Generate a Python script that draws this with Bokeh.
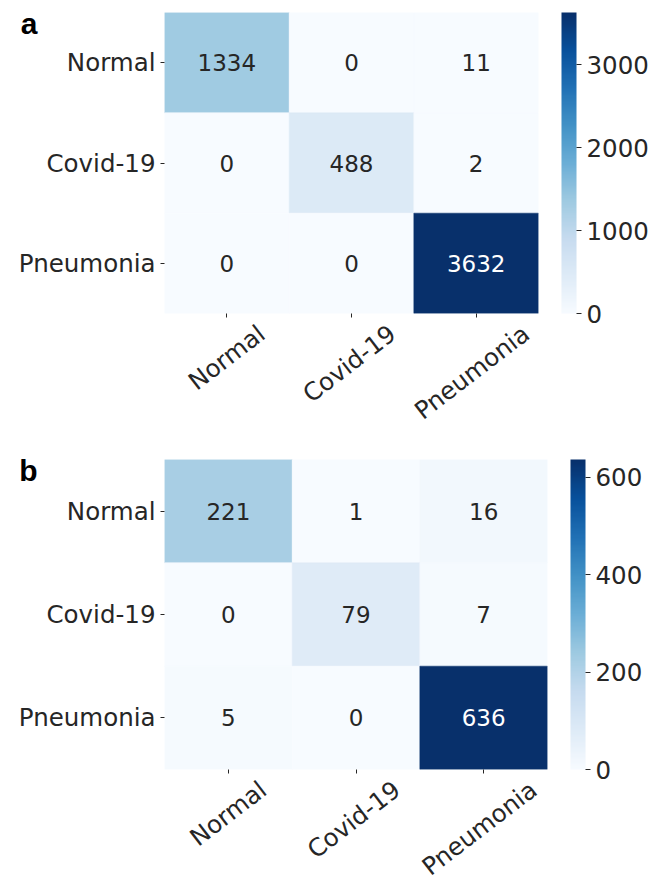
import math
from bokeh.plotting import figure
from bokeh.models import (ColumnDataSource, LinearColorMapper, ColorBar, FixedTicker,
                          Range1d, LinearAxis)
from bokeh.layouts import column
from bokeh.palettes import Blues256
from bokeh.core.properties import value
from bokeh.embed import file_html
from bokeh.resources import INLINE

# ---------------- data ----------------
classes = ["Normal", "Covid-19", "Pneumonia"]
cm_a = [[1334, 0, 11],
        [0, 488, 2],
        [0, 0, 3632]]
cm_b = [[221, 1, 16],
        [0, 79, 7],
        [5, 0, 636]]
cbar_ticks_a = [0, 1000, 2000, 3000]
cbar_ticks_b = [0, 200, 400, 600]
letter_a = "a"
letter_b = "b"

# ---------------- style ----------------
palette = list(reversed(Blues256))
FONT = "DejaVu Sans"
TXT = "#262626"
LAB_SIZE = "24.5px"
XLAB_ANGLE = math.radians(37.5)
XLAB_SHIFT_PX = [35, 41, 50]   # shift of right-anchored rotated labels so they look centred
XLAB_STANDOFF = 13
LETTER_DROP_PX = 11            # letter centre below frame top
LETTER_STANDOFF = -22


def make_panel(cm, cticks, letter, fw, fh, bl, bt, bb):
    n = len(classes)
    vmax = max(max(r) for r in cm)
    xs, ys, vals, txt, tcol = [], [], [], [], []
    for i, row in enumerate(cm):
        for j, v in enumerate(row):
            xs.append(j + 0.5)
            ys.append(i + 0.5)
            vals.append(v)
            txt.append(str(v))
            tcol.append("white" if v > 0.6 * vmax else TXT)
    src = ColumnDataSource(dict(x=xs, y=ys, v=vals, t=txt, c=tcol))
    mapper = LinearColorMapper(palette=palette, low=0, high=vmax)

    p = figure(frame_width=fw, frame_height=fh,
               x_range=Range1d(0, n), y_range=Range1d(n, 0),
               output_backend="svg", toolbar_location=None,
               min_border_left=bl, min_border_top=bt, min_border_bottom=bb,
               min_border_right=125)
    p.grid.visible = False
    p.outline_line_color = None
    p.background_fill_color = "white"

    p.rect(x="x", y="y", width=1, height=1, source=src,
           fill_color={"field": "v", "transform": mapper},
           line_color={"field": "v", "transform": mapper}, line_width=0.5)
    p.text(x="x", y="y", text="t", source=src, text_color="c",
           text_align="center", text_baseline="middle",
           text_font=value(FONT), text_font_size="23px")

    centers = [k + 0.5 for k in range(n)]
    ux = fw / n
    uy = fh / n

    # y axis: class names
    p.yaxis.ticker = FixedTicker(ticks=centers)
    p.yaxis.major_label_overrides = {c: lab for c, lab in zip(centers, classes)}
    p.yaxis.axis_line_color = None
    p.yaxis.major_tick_in = 0
    p.yaxis.major_tick_out = 4
    p.yaxis.major_tick_line_color = TXT
    p.yaxis.minor_tick_line_color = None
    p.yaxis.major_label_standoff = 5
    p.yaxis.major_label_text_font = FONT
    p.yaxis.major_label_text_font_size = LAB_SIZE
    p.yaxis.major_label_text_color = TXT

    # x axis: tick marks at cell centres (minor ticks), rotated labels
    shifted = [c + s / ux for c, s in zip(centers, XLAB_SHIFT_PX)]
    p.xaxis.ticker = FixedTicker(ticks=shifted, minor_ticks=centers)
    p.xaxis.major_label_overrides = {s: lab for s, lab in zip(shifted, classes)}
    p.xaxis.axis_line_color = None
    p.xaxis.major_tick_line_color = None
    p.xaxis.major_tick_in = 0
    p.xaxis.major_tick_out = 0
    p.xaxis.minor_tick_in = 0
    p.xaxis.minor_tick_out = 4
    p.xaxis.minor_tick_line_color = TXT
    p.xaxis.major_label_orientation = XLAB_ANGLE
    p.xaxis.major_label_standoff = XLAB_STANDOFF
    p.xaxis.major_label_text_font = FONT
    p.xaxis.major_label_text_font_size = LAB_SIZE
    p.xaxis.major_label_text_color = TXT

    # panel letter as an outer left axis label
    ly = LETTER_DROP_PX / uy
    lax = LinearAxis(ticker=FixedTicker(ticks=[ly]),
                     major_label_overrides={ly: letter},
                     axis_line_color=None, major_tick_line_color=None,
                     minor_tick_line_color=None, major_tick_out=0, major_tick_in=0,
                     major_label_standoff=LETTER_STANDOFF,
                     major_label_text_font="Liberation Sans",
                     major_label_text_font_style="bold",
                     major_label_text_font_size="30px",
                     major_label_text_color="black")
    p.add_layout(lax, "left")

    cb = ColorBar(color_mapper=mapper, ticker=FixedTicker(ticks=cticks),
                  width=15, height=fh, padding=0, margin=0, location=(23, 0),
                  major_label_text_font=FONT, major_label_text_font_size=LAB_SIZE,
                  major_label_text_color=TXT, major_tick_out=5, major_tick_in=0,
                  major_tick_line_color=TXT, minor_tick_line_color=None,
                  bar_line_color=None, border_line_color=None,
                  background_fill_color=None, label_standoff=5)
    p.add_layout(cb, "right")
    return p


pa = make_panel(cm_a, cbar_ticks_a, letter_a, 374, 301, 160, 12, 127)
pb = make_panel(cm_b, cbar_ticks_b, letter_b, 383, 310, 164, 19, 104)

layout = column(pa, pb, spacing=0)
open("out.html", "w").write(file_html(layout, INLINE))
